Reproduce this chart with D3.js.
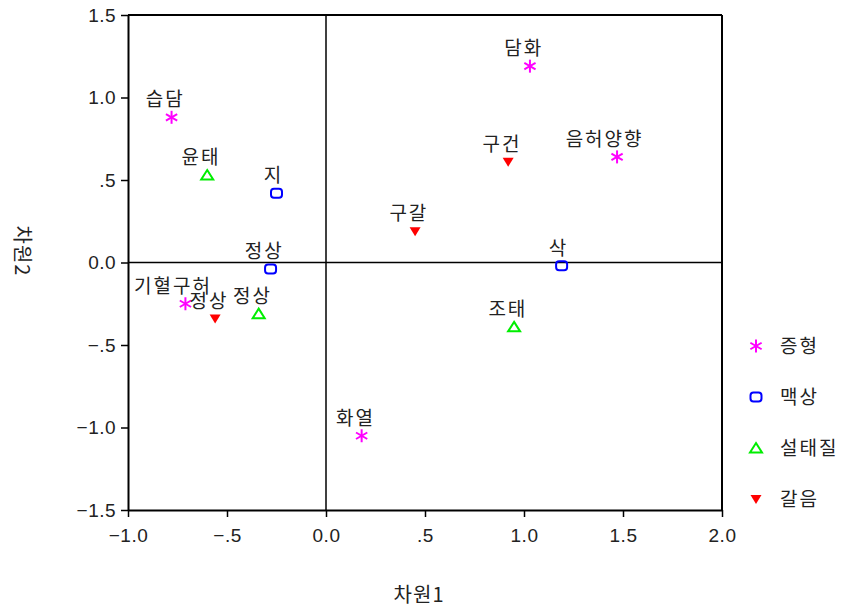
<!DOCTYPE html>
<html>
<head>
<meta charset="utf-8">
<script src="https://cdn.jsdelivr.net/npm/d3@7"></script>
<style>
  body { margin: 0; background: #fff; }
  svg { font-family: "Noto Sans CJK KR", "Noto Sans", sans-serif; }
</style>
</head>
<body>
<svg width="846" height="609"></svg>
<script>
// groups and points (dimension 1, dimension 2)
const groups = ['증형', '맥상', '설태질', '갈음'];
const symptomNames = ['담화', '습담', '음허양향', '기혈구허', '화열'];
const symptomX = [1.03, -0.78, 1.47, -0.71, 0.18];
const symptomY = [1.19, 0.88, 0.64, -0.25, -1.05];
const pulseNames = ['지', '정상', '삭'];
const pulseX = [-0.25, -0.28, 1.19];
const pulseY = [0.42, -0.04, -0.02];
const tongueNames = ['윤태', '정상', '조태'];
const tongueX = [-0.60, -0.34, 0.95];
const tongueY = [0.53, -0.31, -0.39];
const thirstNames = ['구건', '구갈', '정상'];
const thirstX = [0.92, 0.45, -0.56];
const thirstY = [0.61, 0.19, -0.34];
const xTicks = [-1, -0.5, 0, 0.5, 1, 1.5, 2];
const yTicks = [-1.5, -1, -0.5, 0, 0.5, 1, 1.5];

const series = [
  { group: groups[0], names: symptomNames, xs: symptomX, ys: symptomY },
  { group: groups[1], names: pulseNames, xs: pulseX, ys: pulseY },
  { group: groups[2], names: tongueNames, xs: tongueX, ys: tongueY },
  { group: groups[3], names: thirstNames, xs: thirstX, ys: thirstY }
];
const points = series.flatMap(s => s.names.map((n, i) => ({ group: s.group, name: n, x: s.xs[i], y: s.ys[i] })));

const margin = { top: 15, right: 124, bottom: 99, left: 128 };
const width = 846 - margin.left - margin.right;
const height = 609 - margin.top - margin.bottom;

const x = d3.scaleLinear().domain([-1, 2]).range([0, width]);
const y = d3.scaleLinear().domain([-1.5, 1.5]).range([height, 0]);

// SPSS style: 0.0, .5, -1.0 with a real minus sign
const fmt = d => {
  let s = d3.format('.1f')(Math.abs(d));
  if (Math.abs(d) < 1 && d !== 0) s = s.slice(1);
  return (d < 0 ? '\u2212' : '') + s;
};

const svg = d3.select('svg')
  .append('g')
  .attr('transform', `translate(${margin.left}, ${margin.top})`);

// axes
const xAxis = svg.append('g')
  .attr('transform', `translate(0, ${height})`)
  .call(d3.axisBottom(x).tickValues(xTicks).tickFormat(fmt).tickSize(7).tickSizeOuter(0));
const yAxis = svg.append('g')
  .call(d3.axisLeft(y).tickValues(yTicks).tickFormat(fmt).tickSize(7).tickSizeOuter(0));
[xAxis, yAxis].forEach(a => {
  a.select('.domain').attr('stroke', '#000').attr('stroke-width', 2);
  a.selectAll('.tick line').attr('stroke', '#000').attr('stroke-width', 1.5);
  a.selectAll('.tick text')
    .attr('font-size', '19px')
    .attr('fill', '#222')
    .attr('letter-spacing', '0.5px')
    .attr('font-family', '"Liberation Sans", Arial, sans-serif');
});
xAxis.selectAll('.tick text').attr('dy', '1.15em');
yAxis.selectAll('.tick text').attr('dx', '-0.1em');

// frame (top and right) and zero lines
svg.append('line').attr('x1', 0).attr('x2', width).attr('y1', 0).attr('y2', 0)
  .attr('stroke', '#000').attr('stroke-width', 2);
svg.append('line').attr('x1', width).attr('x2', width).attr('y1', 0).attr('y2', height)
  .attr('stroke', '#000').attr('stroke-width', 2);
svg.append('line').attr('x1', x(0)).attr('x2', x(0)).attr('y1', 0).attr('y2', height)
  .attr('stroke', '#000').attr('stroke-width', 1.5);
svg.append('line').attr('x1', 0).attr('x2', width).attr('y1', y(0)).attr('y2', y(0))
  .attr('stroke', '#000').attr('stroke-width', 1.5);

// markers
const colors = { '증형': '#ff00ff', '맥상': '#0000ff', '설태질': '#00ee00', '갈음': '#ff0000' };
function drawMarker(g, group) {
  const c = colors[group];
  if (group === '증형') {
    [0, 60, 120].forEach(a => {
      g.append('line').attr('x1', 0).attr('y1', -6.5).attr('x2', 0).attr('y2', 6.5)
        .attr('transform', `rotate(${a})`).attr('stroke', c).attr('stroke-width', 2);
    });
  } else if (group === '맥상') {
    g.append('rect').attr('x', -5.5).attr('y', -4.5).attr('width', 11).attr('height', 9)
      .attr('rx', 3).attr('fill', 'none').attr('stroke', c).attr('stroke-width', 2);
  } else if (group === '설태질') {
    g.append('path').attr('d', 'M0,-5L6,4.5L-6,4.5Z')
      .attr('fill', 'none').attr('stroke', c).attr('stroke-width', 2);
  } else {
    g.append('path').attr('d', 'M-5.5,-4L5.5,-4L0,5Z').attr('fill', c);
  }
}

const pts = svg.selectAll('g.pt')
  .data(points)
  .enter()
  .append('g')
  .attr('class', 'pt')
  .attr('transform', d => `translate(${x(d.x)}, ${y(d.y)})`);
pts.each(function(d) { drawMarker(d3.select(this), d.group); });

// point labels, sitting above and slightly left of the marker
pts.append('text')
  .attr('y', -11)
  .attr('font-size', '19px')
  .attr('letter-spacing', '2px')
  .attr('fill', '#222')
  .text(d => d.name)
  .attr('x', function() { return -0.66 * this.getComputedTextLength(); });

// legend
const legend = svg.append('g')
  .attr('transform', `translate(${width + 34}, ${y(-0.5) + 1})`);
groups.forEach((gname, i) => {
  const row = legend.append('g').attr('transform', `translate(0, ${i * 51})`);
  drawMarker(row.append('g'), gname);
  row.append('text')
    .attr('x', 24)
    .attr('dy', '0.35em')
    .attr('font-size', '19px')
    .attr('letter-spacing', '2px')
    .attr('fill', '#222')
    .text(gname);
});

// axis titles
svg.append('text')
  .attr('x', x(0.47))
  .attr('y', height + 92)
  .attr('text-anchor', 'middle')
  .attr('font-size', '20px')
  .attr('letter-spacing', '1px')
  .attr('fill', '#222')
  .text('차원1');
svg.append('text')
  .attr('transform', `translate(${-113}, ${y(0.07)}) rotate(90)`)
  .attr('text-anchor', 'middle')
  .attr('font-size', '20px')
  .attr('letter-spacing', '1px')
  .attr('fill', '#222')
  .text('차원2');
</script>
</body>
</html>
